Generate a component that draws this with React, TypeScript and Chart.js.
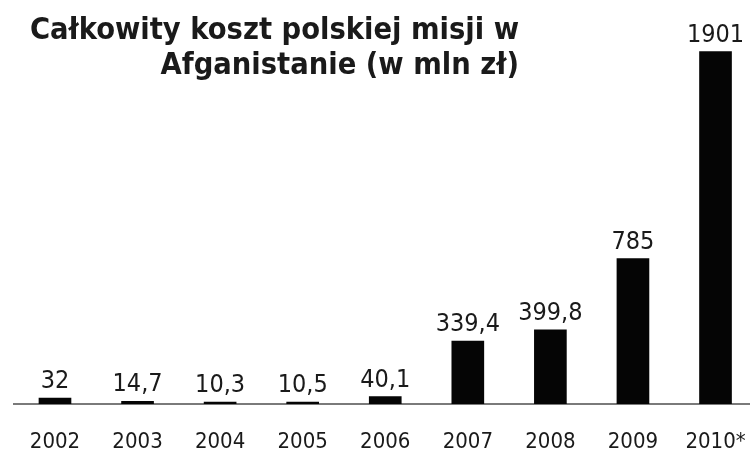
import React, { useEffect, useRef } from "react";
import { Chart, registerables } from "chart.js";

Chart.register(...registerables);

const categories = ["2002", "2003", "2004", "2005", "2006", "2007", "2008", "2009", "2010*"];
const costs = [32, 14.7, 10.3, 10.5, 40.1, 339.4, 399.8, 785, 1901];
const titleLines = ["Całkowity koszt polskiej misji w", "Afganistanie (w mln zł)"];

const FONT = "'DejaVu Sans Condensed', 'DejaVu Sans', sans-serif";
const TEXT = "#1a1a1a";

const fmt = (v: number) => String(v).replace(".", ",");

const overlayPlugin = {
  id: "overlay",
  afterDatasetsDraw(chart: any) {
    const ctx = chart.ctx;
    const meta = chart.getDatasetMeta(0);
    ctx.save();
    ctx.fillStyle = TEXT;
    ctx.font = `25px ${FONT}`;
    ctx.textAlign = "center";
    ctx.textBaseline = "alphabetic";
    meta.data.forEach((bar: any, i: number) => {
      ctx.fillText(fmt(costs[i]), bar.x, bar.y - 10);
    });
    ctx.font = `bold 30.5px ${FONT}`;
    ctx.textAlign = "right";
    ctx.fillText(titleLines[0], 519, 39);
    ctx.fillText(titleLines[1], 519, 74);
    ctx.restore();
  },
};

export default function App() {
  const ref = useRef<HTMLCanvasElement>(null);
  useEffect(() => {
    document.body.style.overflow = "hidden";
    document.documentElement.style.overflow = "hidden";
    const chart = new Chart(ref.current!, {
      type: "bar",
      data: {
        labels: categories,
        datasets: [
          {
            data: costs,
            backgroundColor: "#050505",
            borderWidth: 0,
            barThickness: 32,
          },
        ],
      },
      options: {
        responsive: false,
        animation: false,
        devicePixelRatio: 1,
        layout: { padding: { left: 13.7, right: 1.2, top: 0, bottom: 0 } },
        plugins: {
          legend: { display: false },
          title: { display: false },
          tooltip: { enabled: false },
        },
        scales: {
          x: {
            offset: true,
            grid: { display: false, drawTicks: false },
            border: { display: true, color: "#7a7a7a", width: 2 },
            ticks: {
              color: TEXT,
              font: { family: FONT, size: 22 },
              padding: 25,
              maxRotation: 0,
              autoSkip: false,
            },
            afterFit: (scale: any) => {
              scale.height = 48;
              scale.paddingLeft = 0;
              scale.paddingRight = 0;
            },
          },
          y: {
            display: false,
            min: 0,
            max: 2180,
          },
        },
      },
      plugins: [overlayPlugin],
    });
    return () => chart.destroy();
  }, []);
  return (
    <div style={{ position: "fixed", left: 0, top: 0, width: 758, height: 452, background: "#fff" }}>
      <canvas ref={ref} width={758} height={452} style={{ width: 758, height: 452, display: "block" }} />
    </div>
  );
}
